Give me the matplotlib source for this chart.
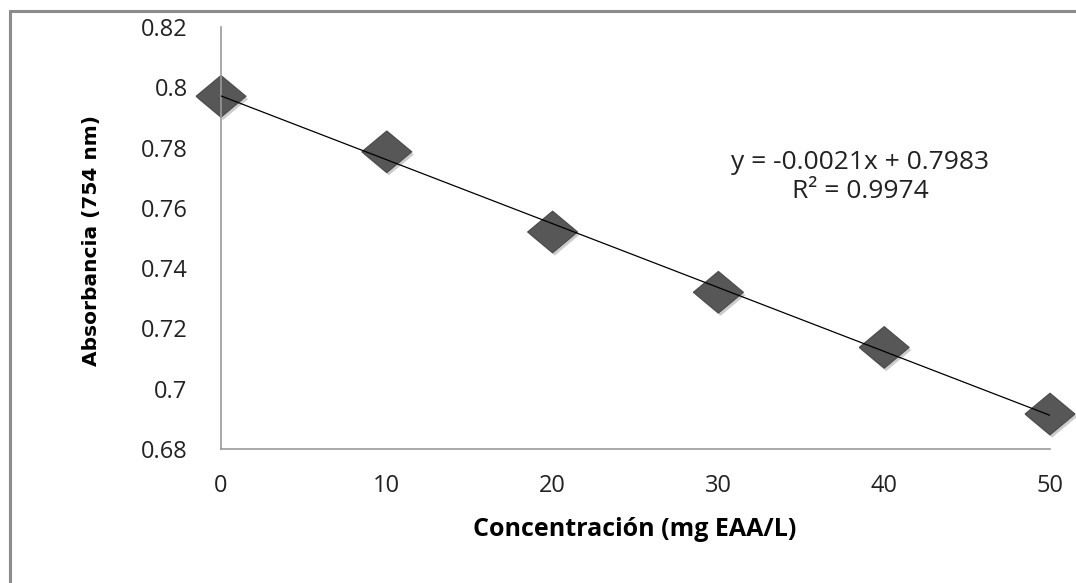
import numpy as np
import matplotlib.pyplot as plt
import matplotlib.patheffects as pe
from matplotlib.patches import Rectangle

# data
conc = [0, 10, 20, 30, 40, 50]
absorb = [0.797, 0.7786, 0.752, 0.732, 0.7137, 0.6916]
y_ticks = [0.68, 0.70, 0.72, 0.74, 0.76, 0.78, 0.80, 0.82]
y_tick_labels = ["0.68", "0.7", "0.72", "0.74", "0.76", "0.78", "0.8", "0.82"]
x_ticks = [0, 10, 20, 30, 40, 50]
eq_text = "y = -0.0021x + 0.7983\nR² = 0.9974"

W, H = 1076, 583
fig = plt.figure(figsize=(W / 100, H / 100), dpi=100)

# outer gray frame (right/bottom edges run off the picture)
fig.patches.append(Rectangle((10 / W, -0.1), 1.2, 1 - 11 / H + 0.1,
                             transform=fig.transFigure, fill=False,
                             edgecolor="#8c8c8c", linewidth=2.2))

ax = fig.add_axes([221 / W, 1 - 449 / H, (1050 - 221) / W, (449 - 27) / H])

# linear trendline
slope, intercept = np.polyfit(conc, absorb, 1)
xs = np.array([conc[0], conc[-1]])
ax.plot(xs, slope * xs + intercept, color="black", linewidth=0.9, zorder=3)

diamond = [(-1.2, 0), (0, 1), (1.2, 0), (0, -1), (-1.2, 0)]
ax.plot(conc, absorb, linestyle="none", marker=diamond, markersize=36,
        markerfacecolor="#575757", markeredgecolor="#4a4a4a", markeredgewidth=0.8,
        zorder=2, clip_on=False,
        path_effects=[pe.SimplePatchShadow(offset=(1.5, -2), shadow_rgbFace="#9a9a9a",
                                           alpha=0.5),
                      pe.Normal()])

ax.set_xlim(0, 50)
ax.set_ylim(0.68, 0.82)
ax.set_xticks(x_ticks)
ax.set_yticks(y_ticks)
ax.set_yticklabels(y_tick_labels)
ax.tick_params(length=0, labelsize=17, colors="#222222")
ax.tick_params(axis="y", pad=24)
ax.tick_params(axis="x", pad=18)
for lbl in ax.get_xticklabels() + ax.get_yticklabels():
    lbl.set_family("Open Sans")

for s in ["top", "right"]:
    ax.spines[s].set_visible(False)
for s in ["left", "bottom"]:
    ax.spines[s].set_color("#9a9a9a")
    ax.spines[s].set_linewidth(1.2)

ax.set_xlabel("Concentración (mg EAA/L)", fontsize=18, fontweight="bold",
              family="Open Sans", va="center")
ax.xaxis.set_label_coords(635 / W, 1 - 530 / H, transform=fig.transFigure)
ax.set_ylabel("Absorbancia (754 nm)", fontsize=14.5, fontweight="bold",
              family="DejaVu Sans", va="center")
ax.yaxis.set_label_coords(92 / W, 1 - 240 / H, transform=fig.transFigure)

fig.text(860 / W, 1 - 177 / H, eq_text, ha="center", va="center",
         fontsize=19, family="Open Sans", color="#222222", linespacing=1.25)

fig.savefig("out.png", dpi=100)
